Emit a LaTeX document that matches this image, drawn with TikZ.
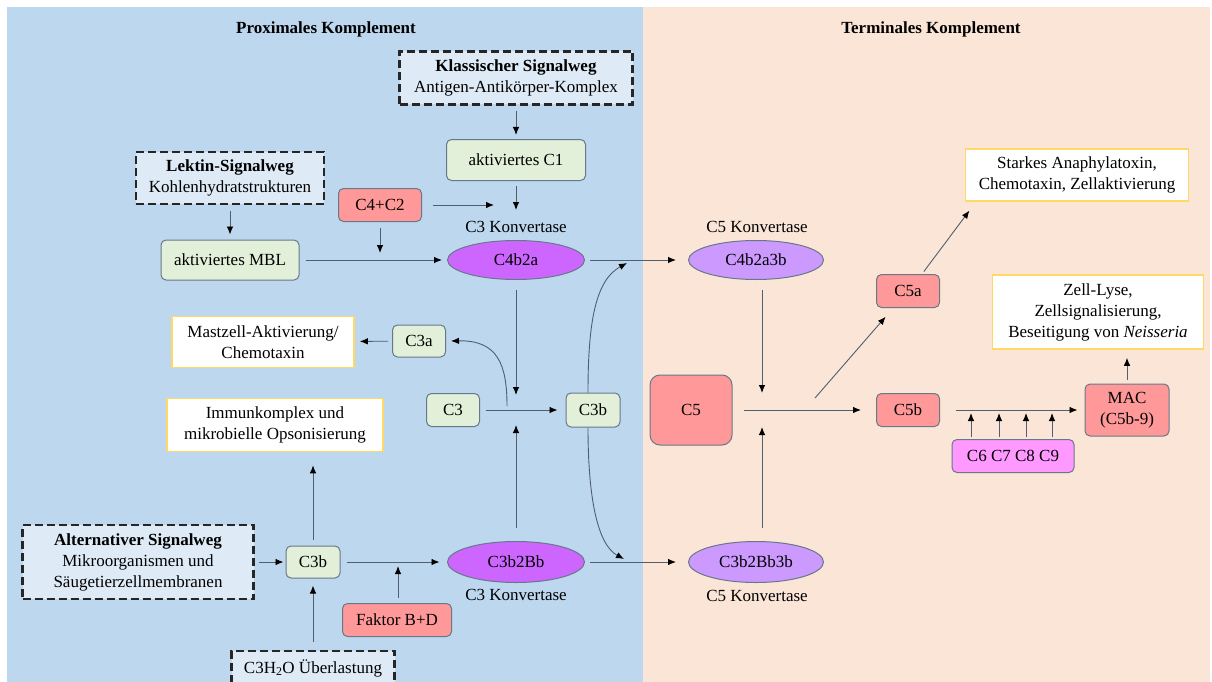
\documentclass[tikz,border=0pt]{standalone}
\usepackage{fontspec}
\setmainfont{Liberation Serif}
\usetikzlibrary{arrows.meta,shapes.geometric}
\definecolor{panelblue}{HTML}{BDD7EE}
\definecolor{panelpeach}{HTML}{FBE5D6}
\definecolor{dashfill}{HTML}{DEEBF7}
\definecolor{cgreen}{HTML}{E2F0D9}
\definecolor{cred}{HTML}{FF9999}
\definecolor{cpink}{HTML}{FF99FF}
\definecolor{cpurple}{HTML}{CC66FF}
\definecolor{clilac}{HTML}{CC99FF}
\definecolor{resborder}{HTML}{FFD966}
\definecolor{nodeborder}{HTML}{677889}
\definecolor{linecol}{HTML}{4F5F6F}
\tikzset{
  base/.style={draw=nodeborder, line width=1pt, rounded corners=5pt, inner sep=0pt, align=center},
  greenbox/.style={base, fill=cgreen},
  redbox/.style={base, fill=cred},
  pinkbox/.style={base, fill=cpink},
  ellA/.style={shape=ellipse, draw=nodeborder, line width=1pt, fill=cpurple, inner sep=0pt},
  ellB/.style={shape=ellipse, draw=nodeborder, line width=1pt, fill=clilac, inner sep=0pt},
  dashbox/.style={draw=black!85, fill=dashfill, line width=2.2pt, dash pattern=on 8pt off 4pt, inner sep=0pt, align=center},
  resbox/.style={draw=resborder, fill=white, line width=1.6pt, inner sep=0pt, align=center},
  arr/.style={draw=linecol, line width=0.9pt, -{Latex[length=8pt,width=6.5pt,fill=black,color=black]}},
  sz/.style 2 args={minimum width=#1, minimum height=#2},
}
\begin{document}
\begin{tikzpicture}[x=1pt, y=-1pt, font=\fontsize{17}{21}\selectfont]
\useasboundingbox (0,0) rectangle (1212,682);
\fill[white] (0,0) rectangle (1212,682);
\fill[panelblue] (7,7) rectangle (643,682);
\fill[panelpeach] (643,7) rectangle (1210,682);

% titles
\node[font=\fontsize{17}{21}\selectfont\bfseries] (t1) at (326,29) {Proximales Komplement};
\node[font=\fontsize{17}{21}\selectfont\bfseries] (t2) at (931,29) {Terminales Komplement};

% pathway boxes
\node[dashbox, sz={233}{53}] (klass) at (516,78) {\textbf{Klassischer Signalweg}\\Antigen-Antikörper-Komplex};
\node[dashbox, sz={188}{52}] (lektin) at (230,178) {\textbf{Lektin-Signalweg}\\Kohlenhydratstrukturen};
\node[dashbox, sz={231}{74}] (alt) at (138,562) {\textbf{Alternativer Signalweg}\\Mikroorganismen und\\Säugetierzellmembranen};
\node[dashbox, sz={163}{34}] (h2o) at (313,668) {C3H\textsubscript{2}O Überlastung};

% proximal nodes
\node[greenbox, sz={139}{41}] (c1) at (516,160) {aktiviertes C1};
\node[greenbox, sz={138}{40}] (mbl) at (230,260) {aktiviertes MBL};
\node[redbox, sz={83}{33}] (c4c2) at (380,205) {C4+C2};
\node[ellA, sz={137}{39}] (c4b2a) at (516,260) {C4b2a};
\node (lab1) at (516,227) {C3 Konvertase};
\node[resbox, sz={182}{51}] (mast) at (263,342) {Mastzell-Aktivierung/\\Chemotaxin};
\node[greenbox, sz={53}{32}] (c3a) at (419,341) {C3a};
\node[greenbox, sz={53}{33}] (c3) at (453,410) {C3};
\node[greenbox, sz={54}{34}] (c3bm) at (593,410) {C3b};
\node[resbox, sz={216}{53}] (immun) at (275,425) {Immunkomplex und\\mikrobielle Opsonisierung};
\node[greenbox, sz={54}{32}] (c3bl) at (313,562) {C3b};
\node[redbox, sz={109}{33}] (faktor) at (397,620) {Faktor B+D};
\node[ellA, sz={137}{41}] (c3b2bb) at (516,562) {C3b2Bb};
\node (lab2) at (516,595) {C3 Konvertase};

% terminal nodes
\node[ellB, sz={135}{39}] (c4b2a3b) at (756,260) {C4b2a3b};
\node (lab3) at (757,227) {C5 Konvertase};
\node[ellB, sz={135}{41}] (c3b2bb3b) at (756,562) {C3b2Bb3b};
\node (lab4) at (757,596) {C5 Konvertase};
\node[redbox, rounded corners=10pt, sz={82}{70}] (c5) at (691,410) {C5};
\node[redbox, sz={63}{33}] (c5a) at (908,291) {C5a};
\node[redbox, sz={63}{33}] (c5b) at (908,410) {C5b};
\node[pinkbox, sz={122}{33}] (c6) at (1013,456) {C6 C7 C8 C9};
\node[redbox, sz={84}{52}] (mac) at (1127,410) {MAC\\(C5b-9)};
\node[resbox, sz={223}{52}] (starkes) at (1077,175) {Starkes Anaphylatoxin,\\Chemotaxin, Zellaktivierung};
\node[resbox, sz={211}{74}] (zell) at (1098,312) {Zell-Lyse,\\Zellsignalisierung,\\Beseitigung von \textit{Neisseria}};

% junction coordinates
\coordinate (jc1) at (516,210);
\coordinate (jc2) at (494,205);
\coordinate (jc3) at (380,253);
\coordinate (jc4) at (516,395);
\coordinate (jc5) at (516,425);
\coordinate (jc6) at (507,406);
\coordinate (jc7) at (627,263);
\coordinate (jc8) at (624,559);
\coordinate (jc9) at (398,566);
\coordinate (jc10) at (762,393);
\coordinate (jc11) at (762,427);
\coordinate (jc12) at (815,398);
\coordinate (k1) at (971,413);
\coordinate (k2) at (999,413);
\coordinate (k3) at (1026,413);
\coordinate (k4) at (1052,413);

% proximal connectors
\draw[arr, shorten <=5pt, shorten >=4pt] (klass) -- (c1);
\draw[arr, shorten <=5pt] (c1) -- (jc1);
\draw[arr, shorten <=11pt] (c4c2) -- (jc2);
\draw[arr, shorten <=6pt] (c4c2) -- (jc3);
\draw[arr, shorten <=6pt, shorten >=5pt] (lektin) -- (mbl);
\draw[arr, shorten <=6pt, shorten >=5pt] (mbl) -- (c4b2a);
\draw[arr, shorten <=5pt, shorten >=12pt] (c4b2a) -- (c4b2a3b);
\draw[arr, shorten <=10pt] (c4b2a) -- (jc4);
\draw[arr, shorten <=6pt, shorten >=8pt] (c3) -- (c3bm);
\draw[arr, shorten <=13pt] (c3b2bb) -- (jc5);
\draw[arr, shorten <=4pt, shorten >=5pt] (c3a) -- (mast);
\draw[arr] (jc6) .. controls (507,365) and (498,340) .. ([xshift=5pt]c3a.east);
\draw[arr] ([xshift=-5pt]c3bm.north) .. controls (588,320) and (596,280) .. (jc7);
\draw[arr] ([xshift=-5pt]c3bm.south) .. controls (588,500) and (598,545) .. (jc8);
\draw[arr, shorten <=6pt, shorten >=13pt] (c3bl.north) -- (c3bl.north |- immun.south);
\draw[arr, shorten <=4.5pt, shorten >=2pt] (alt) -- (c3bl);
\draw[arr, shorten <=8pt, shorten >=7pt] (h2o.north -| c3bl) -- (c3bl);
\draw[arr, shorten <=6pt, shorten >=7.5pt] (c3bl) -- (c3b2bb);
\draw[arr, shorten <=5.5pt] (faktor.north -| jc9) -- (jc9);
\draw[arr, shorten <=5pt, shorten >=12pt] (c3b2bb) -- (c3b2bb3b);

% terminal connectors
\draw[arr, shorten <=10pt] (c4b2a3b.south -| jc10) -- (jc10);
\draw[arr, shorten <=13pt] (c3b2bb3b.north -| jc11) -- (jc11);
\draw[arr, shorten <=11pt, shorten >=15pt] (c5) -- (c5b);
\draw[arr, shorten >=11.6pt] (jc12) -- (c5a);
\draw[arr, shorten <=3pt, shorten >=11pt] ([xshift=14pt]c5a.north) -- ([xshift=-101pt]starkes.south);
\draw[arr, shorten <=15.5pt, shorten >=7pt] (c5b) -- (mac);
\foreach \k in {k1,k2,k3,k4} {
  \draw[arr, shorten <=2pt] (c6.north -| \k) -- (\k);
}
\draw[arr, shorten <=4pt, shorten >=8pt] (mac.north) -- (mac.north |- zell.south);
\end{tikzpicture}
\end{document}
